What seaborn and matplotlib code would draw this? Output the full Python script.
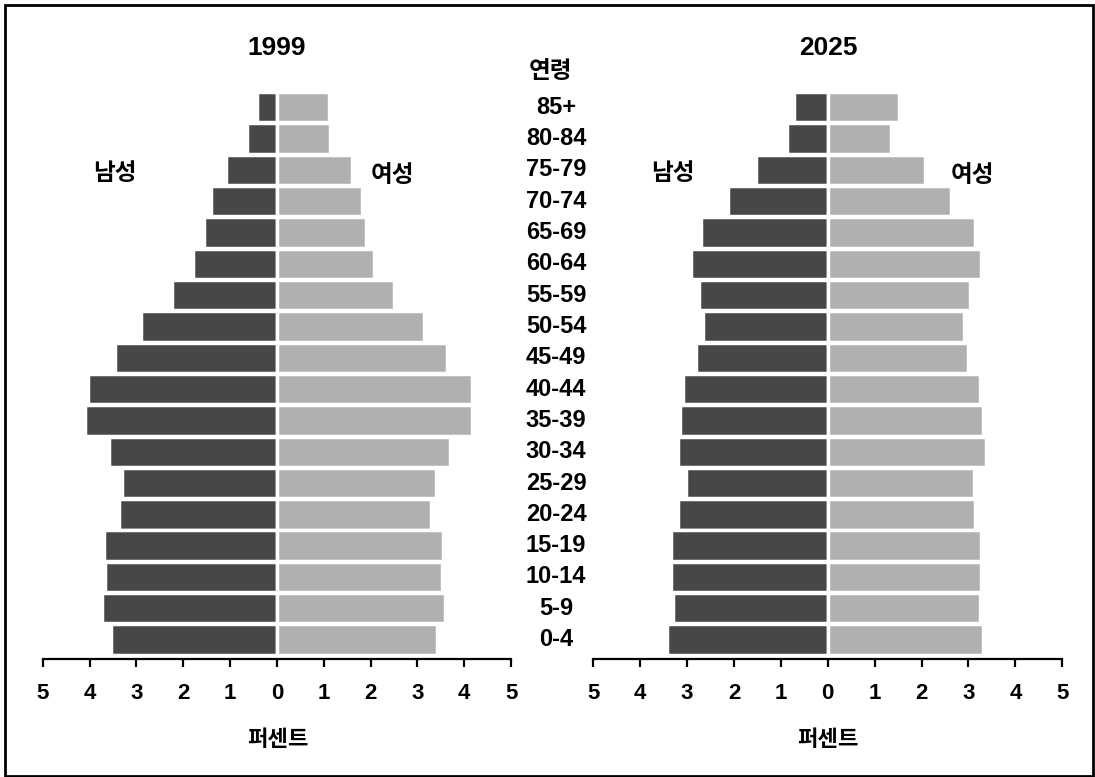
import numpy as np
import pandas as pd
import seaborn as sns
import matplotlib
matplotlib.use('Agg')
import matplotlib.pyplot as plt
from matplotlib.patches import Rectangle

# Age groups, top to bottom
ages = ['85+', '80-84', '75-79', '70-74', '65-69', '60-64', '55-59', '50-54', '45-49',
        '40-44', '35-39', '30-34', '25-29', '20-24', '15-19', '10-14', '5-9', '0-4']

# Percent of population, 1999
male_1999 = [0.43, 0.64, 1.09, 1.41, 1.56, 1.80, 2.24, 2.91, 3.46,
             4.04, 4.10, 3.59, 3.31, 3.38, 3.70, 3.68, 3.74, 3.55]
female_1999 = [1.11, 1.14, 1.60, 1.82, 1.90, 2.07, 2.50, 3.14, 3.63,
               4.17, 4.17, 3.70, 3.40, 3.29, 3.55, 3.53, 3.59, 3.42]

# Percent of population, 2025
male_2025 = [0.71, 0.86, 1.52, 2.12, 2.70, 2.91, 2.74, 2.67, 2.80,
             3.08, 3.16, 3.19, 3.02, 3.19, 3.34, 3.34, 3.31, 3.42]
female_2025 = [1.51, 1.34, 2.07, 2.62, 3.15, 3.26, 3.03, 2.90, 3.00,
               3.24, 3.32, 3.37, 3.11, 3.15, 3.26, 3.26, 3.24, 3.32]

years = ['1999', '2025']
ticks = [-5, -4, -3, -2, -1, 0, 1, 2, 3, 4, 5]

dark = '#474747'
light = '#b0b0b0'

sns.set_theme(style='white')
plt.rcParams['font.family'] = ['Liberation Sans', 'Noto Sans CJK KR', 'DejaVu Sans']
plt.rcParams['font.weight'] = 'bold'
plt.rcParams['text.color'] = 'black'
plt.rcParams['xtick.color'] = 'black'

fig = plt.figure(figsize=(10.95, 7.77), dpi=100)
ax1 = fig.add_axes([0.039, 0.1519, 0.4277, 0.7302])
ax2 = fig.add_axes([0.5418, 0.1519, 0.4283, 0.7302])

data = {
    '1999': (male_1999, female_1999),
    '2025': (male_2025, female_2025),
}

for ax, year in zip([ax1, ax2], years):
    male, female = data[year]
    df = pd.DataFrame({'age': ages, 'male': -np.array(male), 'female': female})
    sns.barplot(data=df, x='male', y='age', order=ages, orient='h', color=dark,
                width=0.97, edgecolor='white', linewidth=2.5, saturation=1, ax=ax)
    sns.barplot(data=df, x='female', y='age', order=ages, orient='h', color=light,
                width=0.97, edgecolor='white', linewidth=2.5, saturation=1, ax=ax)
    ax.set_xlim(-5, 5)
    ax.set_ylim(17.62, -0.5)
    ax.set_xticks(ticks)
    ax.set_xticklabels([str(abs(t)) for t in ticks], fontsize=16, fontweight='bold',
                       color='black')
    ax.set_yticks([])
    ax.set_xlabel('')
    ax.set_ylabel('')
    for s in ['left', 'right', 'top']:
        ax.spines[s].set_visible(False)
    ax.spines['bottom'].set_linewidth(1.6)
    ax.spines['bottom'].set_color('black')
    ax.tick_params(axis='x', direction='out', length=6, width=1.6, color='black',
                   pad=11, bottom=True)

# Text positions in pixels (figure 1095x777)
def px(x, y):
    return x / 1095, 1 - y / 777

kw = dict(ha='center', va='center', fontweight='heavy', fontsize=17, color='black')
fig.text(*px(277, 48), '1999', **{**kw, 'fontsize': 19, 'fontweight': 'bold'})
fig.text(*px(828, 48), '2025', **{**kw, 'fontsize': 19, 'fontweight': 'bold'})
fig.text(*px(550, 71), '연령', **kw)
fig.text(*px(115, 174), '남성', **kw)
fig.text(*px(392, 175), '여성', **kw)
fig.text(*px(673, 174), '남성', **kw)
fig.text(*px(972, 175), '여성', **kw)
fig.text(*px(278, 740), '퍼센트', **{**kw, 'fontsize': 16})
fig.text(*px(828, 740), '퍼센트', **{**kw, 'fontsize': 16})

# Age labels in the middle, aligned with the bar rows
for i, a in enumerate(ages):
    yd = ax1.transData.transform((0, i))[1]
    yf = fig.transFigure.inverted().transform((0, yd))[1]
    fig.text(556 / 1095, yf, a, ha='center', va='center', fontsize=17,
             fontweight='bold', color='black')

# Frame around the whole picture
fig.patches.append(Rectangle((5 / 1095, 1 / 777), 1088 / 1095, 771 / 777,
                             transform=fig.transFigure, fill=False,
                             edgecolor='black', linewidth=2))

fig.savefig('out.png', dpi=100)
